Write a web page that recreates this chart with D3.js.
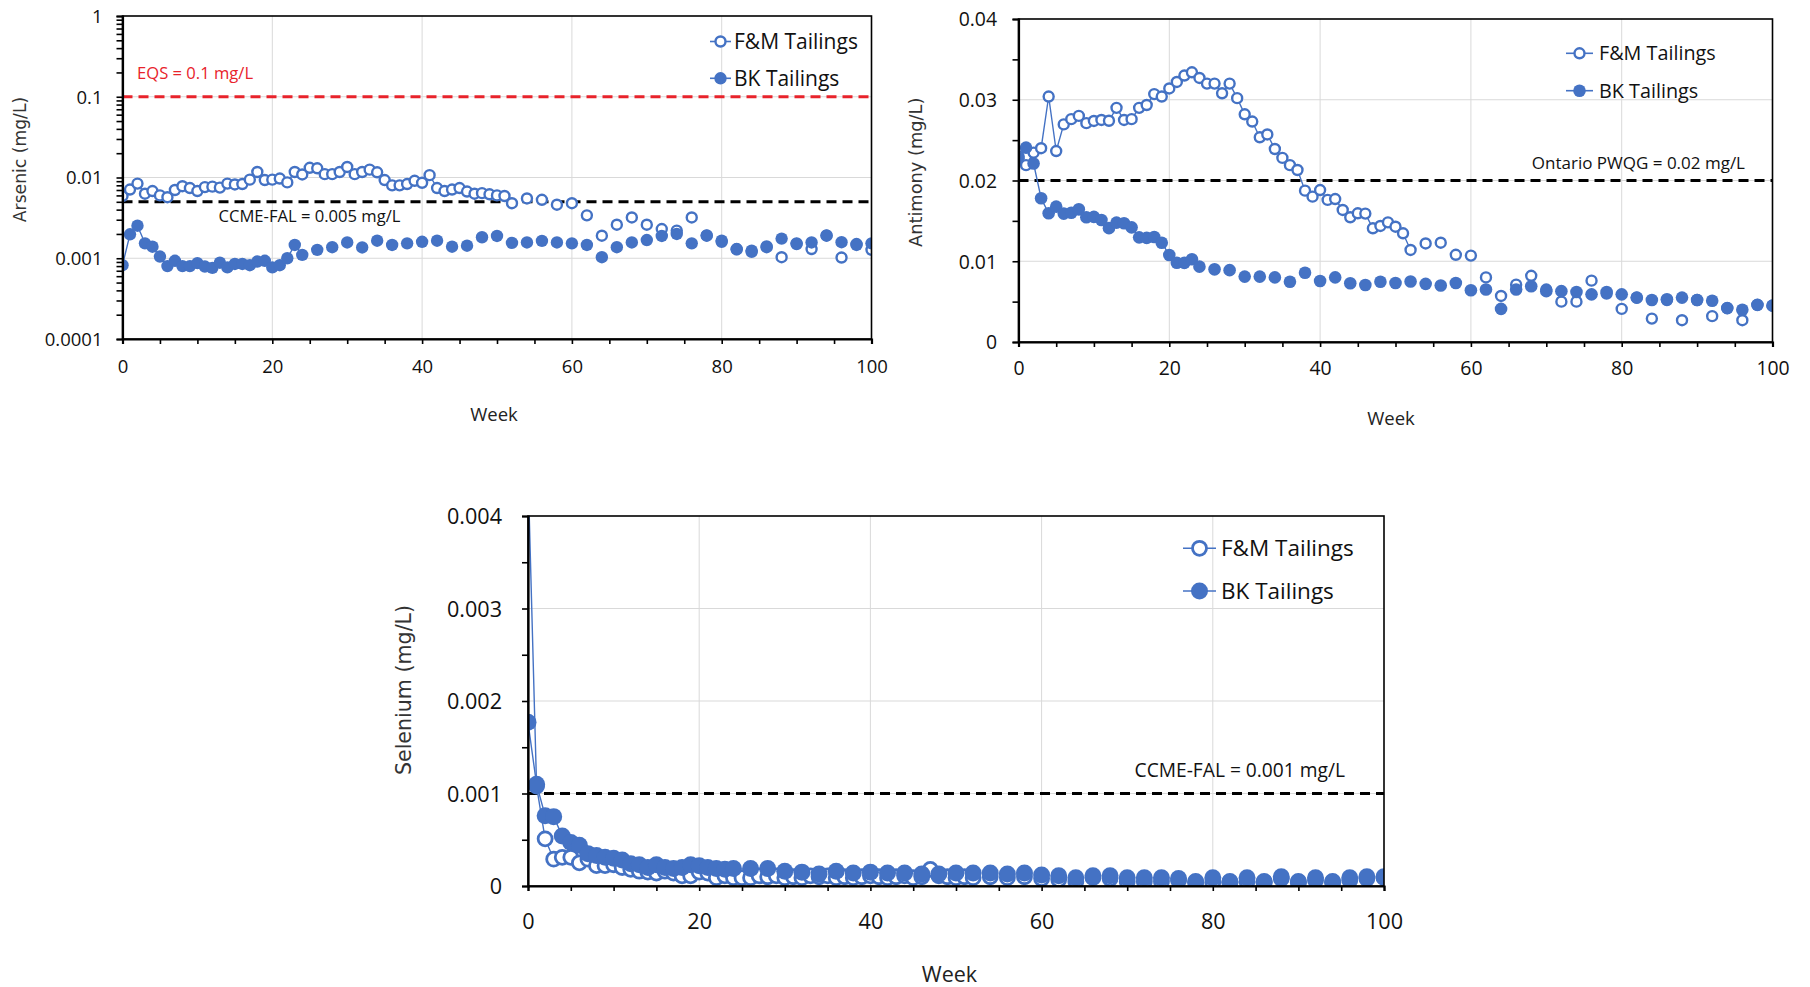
<!DOCTYPE html>
<html><head><meta charset="utf-8">
<script src="https://cdn.jsdelivr.net/npm/d3@7"></script>
<style>
html,body{margin:0;padding:0;background:#fff;}
svg{display:block;}
</style></head><body>
<svg id="chart" width="1810" height="987"></svg>
<script>
// ---------------- DATA ----------------
const weeksFM = [0,1,2,3,4,5,6,7,8,9,10,11,12,13,14,15,16,17,18,19,20,21,22,23,24,25,26,27,28,29,30,31,32,33,34,35,36,37,38,39,40,41,42,43,44,45,46,47,48,49,50,51,52,
  54,56,58,60,62,64,66,68,70,72,74,76,78,80,82,84,86,88,90,92,94,96,98,100];
const weeksBK = [0,1,2,3,4,5,6,7,8,9,10,11,12,13,14,15,16,17,18,19,20,21,22,23,24,
  26,28,30,32,34,36,38,40,42,44,46,48,50,52,54,56,58,60,62,64,66,68,70,72,74,76,78,80,82,84,86,88,90,92,94,96,98,100];

const arsenicFM = [0.0059,0.0071,0.0084,0.0063,0.0068,0.0060,0.0057,0.0070,0.0078,0.0074,0.0068,0.0076,0.0077,0.0075,0.0084,0.0082,0.0083,0.0094,0.0117,0.0093,
  0.0094,0.0097,0.0087,0.0117,0.0109,0.0132,0.0130,0.0110,0.0110,0.0117,0.0135,0.0110,0.0117,0.0125,0.0116,0.0093,0.0080,0.0080,0.0083,0.0091,
  0.0086,0.0107,0.0074,0.0068,0.0071,0.0074,0.0067,0.0063,0.0064,0.0062,0.0060,0.0059,0.0048,
  0.0055,0.0053,0.0046,0.0048,0.0034,0.0019,0.0026,0.0032,0.0026,0.0023,0.0022,0.0032,0.0019,0.0016,0.0013,0.0012,0.0014,0.00103,0.0015,0.0013,0.0019,0.00102,0.0015,0.00127];
const arsenicBK = [0.00082,0.00198,0.00253,0.00153,0.00139,0.00105,0.00080,0.00093,0.00080,0.00080,0.00087,0.00079,0.00076,0.00088,0.00077,0.00085,0.00085,0.00082,0.00091,0.00093,
  0.00077,0.00082,0.00100,0.00146,0.00110,
  0.00127,0.00137,0.00157,0.00136,0.00165,0.00146,0.00153,0.00160,0.00165,0.00139,0.00143,0.00182,0.00189,0.00155,0.00157,0.00164,0.00157,0.00153,0.00146,0.00103,
  0.00137,0.00157,0.00168,0.00189,0.00200,0.00153,0.00192,0.00165,0.00129,0.00124,0.00137,0.00175,0.00153,0.00157,0.00192,0.00158,0.00146,0.00153];

const antimonyFM = [0.0230,0.0219,0.02345,0.0240,0.0304,0.02365,0.02695,0.0276,0.0280,0.0271,0.02737,0.0275,0.0274,0.0290,0.0275,0.0276,0.0290,0.02935,0.0307,0.0304,
  0.0314,0.0322,0.0330,0.0334,0.0327,0.0320,0.0320,0.0308,0.0320,0.0302,0.0282,0.0273,0.02535,0.0257,0.0239,0.0228,0.0219,0.0213,0.01874,0.0180,
  0.01882,0.0176,0.0177,0.01635,0.01544,0.01594,0.0159,0.01408,0.01437,0.01482,0.01428,0.01346,0.0114,
  0.0122,0.0123,0.0108,0.0107,0.0080,0.0057,0.0071,0.0082,0.0065,0.0050,0.0050,0.0076,0.0060,0.0041,0.0055,0.0029,0.0052,0.0027,0.0052,0.0032,0.0042,0.0027,0.0046,0.0045];
const antimonyBK = [0.02275,0.02407,0.0221,0.0178,0.01594,0.01676,0.0159,0.0160,0.01643,0.01544,0.0155,0.0151,0.0141,0.01478,0.0147,0.0142,0.01296,0.0129,0.0130,0.0123,
  0.01077,0.00982,0.0098,0.01024,0.00933,
  0.0090,0.0089,0.0081,0.0081,0.0080,0.00747,0.00858,0.00755,0.0080,0.00727,0.00706,0.00747,0.0073,0.0075,0.0072,0.0070,0.0073,0.0064,0.0065,0.0041,
  0.0065,0.0069,0.0063,0.0063,0.0062,0.0059,0.0062,0.0059,0.0055,0.0052,0.0053,0.0055,0.0052,0.0051,0.0042,0.0040,0.0046,0.0045];

const seleniumFM = [0.0045,0.00108,0.00051,0.00029,0.00031,0.00031,0.00025,0.00029,0.00022,0.00022,0.00023,0.00020,0.00018,0.00016,0.00015,0.00014,0.00016,0.00014,0.00011,0.00011,
  0.00015,0.00014,0.00009,0.00011,0.00009,0.00009,0.00009,0.00011,0.00010,0.00011,0.00009,0.00010,0.00009,0.00011,0.00010,0.00011,0.00009,0.00010,0.00009,0.00010,
  0.00011,0.00010,0.00009,0.00010,0.00011,0.00009,0.00010,0.00018,0.00011,0.00010,0.00009,0.00010,0.00009,
  0.00010,0.00009,0.00010,0.00008,0.00007,0.00005,0.00009,0.00008,0.00005,0.00005,0.00005,0.00006,0.00005,0.00004,0.00005,0.00005,0.00005,0.00008,0.00005,0.00006,0.00005,0.00006,0.00008,0.00009];
const seleniumBK = [0.00177,0.00110,0.00076,0.00075,0.00054,0.00047,0.00044,0.00035,0.00033,0.00031,0.00030,0.00028,0.00024,0.00023,0.00020,0.00023,0.00020,0.00019,0.00020,0.00023,
  0.00022,0.00020,0.00019,0.00018,0.00019,
  0.00019,0.00019,0.00016,0.00015,0.00013,0.00016,0.00014,0.00015,0.00014,0.00014,0.00013,0.00013,0.00014,0.00014,0.00014,0.00013,0.00014,0.00012,0.00011,0.00009,
  0.00011,0.00011,0.00009,0.00009,0.00009,0.00008,0.00004,0.00009,0.00004,0.00009,0.00004,0.00010,0.00004,0.00009,0.00004,0.00009,0.00010,0.00010];

const seriesNames = ["F&M Tailings", "BK Tailings"];
const xTickValues = [0, 20, 40, 60, 80, 100];
const arsenicTicks = [0.0001, 0.001, 0.01, 0.1, 1];
const arsenicTickLabels = ["0.0001", "0.001", "0.01", "0.1", "1"];
const antimonyTicks = [0, 0.01, 0.02, 0.03, 0.04];
const antimonyTickLabels = ["0", "0.01", "0.02", "0.03", "0.04"];
const seleniumTicks = [0, 0.001, 0.002, 0.003, 0.004];
const seleniumTickLabels = ["0", "0.001", "0.002", "0.003", "0.004"];
const arsenicGuides = [{value: 0.1, label: "EQS = 0.1 mg/L", color: "#E8232B"}, {value: 0.005, label: "CCME-FAL = 0.005 mg/L", color: "#000"}];
const antimonyGuides = [{value: 0.02, label: "Ontario PWQG = 0.02 mg/L", color: "#000"}];
const seleniumGuides = [{value: 0.001, label: "CCME-FAL = 0.001 mg/L", color: "#000"}];

// ---------------- DRAWING ----------------
const BLUE = "#4472C4";
const TICKFONT = "'Open Sans', 'DejaVu Sans', sans-serif";
const TITLEFONT = "'DejaVu Sans', Verdana, sans-serif";
const svg = d3.select("#chart");

function panel(cfg) {
  const g = svg.append("g");
  const x = d3.scaleLinear().domain([0, 100]).range([cfg.l, cfg.r]);
  const y = cfg.log
    ? d3.scaleLog().domain([cfg.yTicks[0], cfg.yTicks[cfg.yTicks.length - 1]]).range([cfg.b, cfg.t])
    : d3.scaleLinear().domain([cfg.yTicks[0], cfg.yTicks[cfg.yTicks.length - 1]]).range([cfg.b, cfg.t]);

  // gridlines
  g.append("g").selectAll("line").data(xTickValues.slice(1, -1)).join("line")
    .attr("x1", d => x(d)).attr("x2", d => x(d)).attr("y1", cfg.t).attr("y2", cfg.b)
    .attr("stroke", "#d9d9d9").attr("stroke-width", 1);
  g.append("g").selectAll("line").data(cfg.yTicks.slice(1, -1)).join("line")
    .attr("x1", cfg.l).attr("x2", cfg.r).attr("y1", d => y(d)).attr("y2", d => y(d))
    .attr("stroke", "#d9d9d9").attr("stroke-width", 1);

  // guideline dashed lines
  cfg.guides.forEach((gd, i) => {
    g.append("line").attr("x1", cfg.l).attr("x2", cfg.r).attr("y1", y(gd.value)).attr("y2", y(gd.value))
      .attr("stroke", gd.color).attr("stroke-width", 3).attr("stroke-dasharray", "10,6");
    const lp = cfg.guideLabels[i];
    g.append("text").attr("x", lp.x).attr("y", lp.y).attr("dy", "0.35em")
      .attr("text-anchor", lp.anchor).attr("fill", gd.color === "#000" ? "#111" : gd.color)
      .style("font-family", TICKFONT).style("font-size", lp.size + "px").text(gd.label);
  });

  // clip
  const cid = "clip" + cfg.id;
  svg.append("defs").append("clipPath").attr("id", cid).append("rect")
    .attr("x", cfg.l).attr("y", cfg.t).attr("width", cfg.r - cfg.l).attr("height", cfg.b - cfg.t);
  const plot = g.append("g").attr("clip-path", `url(#${cid})`);

  const series = [
    {weeks: weeksFM, vals: cfg.fm, open: true},
    {weeks: weeksBK, vals: cfg.bk, open: false}
  ];
  const line = d3.line().x(d => x(d.w)).y(d => y(d.v));
  series.forEach(s => {
    const pts = s.weeks.map((w, i) => ({w, v: s.vals[i]}));
    // consecutive-week segments (gaps in data break the line)
    const segs = [];
    let cur = [];
    pts.forEach((p, i) => {
      if (i > 0 && p.w - pts[i - 1].w > 1) { segs.push(cur); cur = []; }
      cur.push(p);
    });
    segs.push(cur);
    plot.append("g").selectAll("path").data(segs.filter(s2 => s2.length > 1)).join("path")
      .attr("d", line).attr("fill", "none").attr("stroke", BLUE).attr("stroke-width", 1.4);
    plot.append("g").selectAll("circle").data(pts).join("circle")
      .attr("cx", d => x(d.w)).attr("cy", d => y(d.v))
      .attr("r", s.open ? cfg.rOpen : cfg.rFill)
      .attr("fill", s.open ? "#fff" : BLUE)
      .attr("stroke", BLUE).attr("stroke-width", s.open ? cfg.swOpen : 0);
  });

  // border (top/right)
  g.append("rect").attr("x", cfg.l).attr("y", cfg.t).attr("width", cfg.r - cfg.l).attr("height", cfg.b - cfg.t)
    .attr("fill", "none").attr("stroke", "#000").attr("stroke-width", 1.6);

  // x axis
  const xa = g.append("g").attr("transform", `translate(0,${cfg.b})`)
    .call(d3.axisBottom(x).tickValues(d3.range(0, 101, 5)).tickSize(5).tickPadding(cfg.xPad)
      .tickFormat(d => xTickValues.includes(d) ? String(d) : ""));
  // y axis
  const yAll = cfg.log ? y.ticks() : y.ticks(8);
  const ya = g.append("g").attr("transform", `translate(${cfg.l},0)`)
    .call(d3.axisLeft(y).tickValues(yAll).tickSize(6).tickPadding(cfg.yPad)
      .tickFormat(d => {
        const idx = cfg.yTicks.findIndex(t => Math.abs(t - d) <= Math.abs(t) * 1e-6 + 1e-12);
        return idx >= 0 ? cfg.yTickLabels[idx] : "";
      }));
  [xa, ya].forEach(a => {
    a.select(".domain").attr("stroke", "#000").attr("stroke-width", 2.2);
    a.selectAll(".tick line").attr("stroke", "#000").attr("stroke-width", 1.6);
    a.selectAll(".tick text").attr("fill", "#111").style("font-family", TICKFONT);
  });
  xa.selectAll(".tick text").style("font-size", cfg.xFont + "px");
  ya.selectAll(".tick text").style("font-size", cfg.yFont + "px").attr("dy", "0.35em");

  // axis titles
  g.append("text").attr("x", cfg.xTitle.x).attr("y", cfg.xTitle.y).attr("dy", "0.35em")
    .attr("text-anchor", "middle").attr("fill", "#222")
    .style("font-family", TICKFONT).style("font-size", cfg.xTitle.size + "px").text("Week");
  g.append("text").attr("transform", `translate(${cfg.yTitle.x},${cfg.yTitle.y}) rotate(-90)`)
    .attr("dy", "0.35em").attr("text-anchor", "middle").attr("fill", "#333")
    .style("font-family", TITLEFONT).style("font-size", cfg.yTitle.size + "px").text(cfg.yTitle.text);

  // legend
  seriesNames.forEach((name, i) => {
    const ly = cfg.legend.ys[i];
    const lg = g.append("g");
    lg.append("line").attr("x1", cfg.legend.x1).attr("x2", cfg.legend.x2).attr("y1", ly).attr("y2", ly)
      .attr("stroke", BLUE).attr("stroke-width", 1.6);
    lg.append("circle").attr("cx", (cfg.legend.x1 + cfg.legend.x2) / 2).attr("cy", ly)
      .attr("r", i === 0 ? cfg.rOpen : cfg.rFill).attr("fill", i === 0 ? "#fff" : BLUE)
      .attr("stroke", BLUE).attr("stroke-width", i === 0 ? cfg.swOpen : 0);
    lg.append("text").attr("x", cfg.legend.tx).attr("y", ly).attr("dy", "0.35em").attr("fill", "#111")
      .style("font-family", TICKFONT).style("font-size", cfg.legend.size + "px").text(name);
  });
}

panel({
  id: 1, l: 122.5, r: 871.5, t: 16, b: 339, log: true,
  yTicks: arsenicTicks, yTickLabels: arsenicTickLabels,
  fm: arsenicFM, bk: arsenicBK, guides: arsenicGuides,
  guideLabels: [{x: 137, y: 73.5, anchor: "start", size: 16.6}, {x: 218.5, y: 216, anchor: "start", size: 16.6}],
  rOpen: 5, rFill: 6.2, swOpen: 2.4,
  xPad: 16, yPad: 14, xFont: 18.5, yFont: 18.5,
  xTitle: {x: 494, y: 415, size: 18.5},
  yTitle: {x: 20, y: 159.5, size: 17.2, text: "Arsenic (mg/L)"},
  legend: {x1: 710, x2: 731, tx: 734, ys: [41.5, 78.3], size: 21}
});

panel({
  id: 2, l: 1018.5, r: 1772.5, t: 19, b: 342, log: false,
  yTicks: antimonyTicks, yTickLabels: antimonyTickLabels,
  fm: antimonyFM, bk: antimonyBK, guides: antimonyGuides,
  guideLabels: [{x: 1745, y: 163.5, anchor: "end", size: 17}],
  rOpen: 5, rFill: 6.3, swOpen: 2.4,
  xPad: 14, yPad: 15.5, xFont: 19.4, yFont: 19.4,
  xTitle: {x: 1391, y: 419, size: 18.5},
  yTitle: {x: 915.5, y: 172.3, size: 17.8, text: "Antimony (mg/L)"},
  legend: {x1: 1566, x2: 1593, tx: 1599, ys: [53.3, 90.7], size: 19.8}
});

panel({
  id: 3, l: 528, r: 1384, t: 516, b: 886, log: false,
  yTicks: seleniumTicks, yTickLabels: seleniumTickLabels,
  fm: seleniumFM, bk: seleniumBK, guides: seleniumGuides,
  guideLabels: [{x: 1345, y: 770, anchor: "end", size: 19.2}],
  rOpen: 7, rFill: 8.5, swOpen: 2.8,
  xPad: 22.5, yPad: 20, xFont: 21.6, yFont: 21.6,
  xTitle: {x: 949.5, y: 974, size: 21.5},
  yTitle: {x: 404, y: 690, size: 20.6, text: "Selenium (mg/L)"},
  legend: {x1: 1183, x2: 1216, tx: 1221, ys: [548.3, 591], size: 22.5}
});
</script>
</body></html>
